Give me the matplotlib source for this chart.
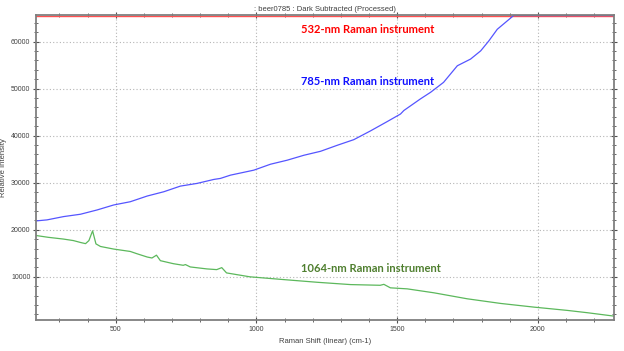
import matplotlib
matplotlib.use("Agg")
import matplotlib.pyplot as plt
from matplotlib.ticker import MultipleLocator

# Raman shift (cm-1) and intensity readings
blue_x = [217, 256, 315, 375, 434, 493, 552, 612, 671, 730, 789, 849, 872, 908, 991, 1050,
          1109, 1169, 1228, 1287, 1346, 1405, 1465, 1512, 1524, 1583, 1619, 1665, 1714, 1761,
          1797, 1826, 1856, 1914, 2270]
blue_y = [21880, 22100, 22800, 23300, 24210, 25270, 25960, 27170, 28080, 29280, 29850, 30700,
          30910, 31610, 32670, 33930, 34780, 35840, 36680, 37950, 39150, 41000, 43000, 44600,
          45350, 47820, 49220, 51330, 54860, 56280, 58030, 60150, 62620, 65535, 65535]

green_x = [217, 260, 315, 350, 375, 393, 405, 418, 430, 446, 493, 552, 576, 612, 629, 645, 659,
           705, 740, 748, 765, 824, 859, 877, 894, 930, 977, 1097, 1216, 1334, 1440, 1453,
           1476, 1536, 1631, 1749, 1868, 1986, 2105, 2176, 2270]
green_y = [18780, 18400, 18020, 17700, 17300, 17050, 17700, 19770, 17000, 16450, 15900, 15390,
           14900, 14210, 14000, 14600, 13430, 12790, 12450, 12600, 12100, 11680, 11530, 11950,
           10830, 10470, 10000, 9410, 8840, 8350, 8200, 8400, 7660, 7440, 6600, 5330, 4340,
           3560, 2860, 2370, 1650]

red_x = [217, 2270]
red_y = [65535, 65535]

labels = ["532-nm Raman instrument", "785-nm Raman instrument", "1064-nm Raman instrument"]
label_pos = [(1157, 62480), (1157, 51460), (1157, 11770)]
label_colors = ["#ff0000", "#1010ff", "#4f7f2f"]

plt.rcParams['font.family'] = ['Liberation Sans', 'DejaVu Sans']

fig = plt.figure(figsize=(6.24, 3.51), dpi=100)
ax = fig.add_axes([0.0577, 0.0883, 0.926, 0.869])

ax.plot(red_x, red_y, color="#ff5050", lw=1.0)
ax.plot(blue_x, blue_y, color="#5555ff", lw=0.9)
ax.plot(green_x, green_y, color="#5cb85c", lw=0.9)

ax.set_xlim(217, 2270)
ax.set_ylim(820, 65650)
ax.xaxis.set_major_locator(MultipleLocator(500))
ax.xaxis.set_minor_locator(MultipleLocator(100))
ax.yaxis.set_major_locator(MultipleLocator(10000))
ax.yaxis.set_minor_locator(MultipleLocator(2000))

ax.grid(True, which="major", linestyle=(0, (1, 2)), color="#b5b5b5", lw=0.8)
for s in ax.spines.values():
    s.set_color("#7f7f7f")
    s.set_linewidth(1.3)
ax.tick_params(which="major", direction="inout", length=4, width=0.8, color="#505050",
               labelsize=5, labelcolor="#404040", pad=2)
ax.tick_params(which="minor", direction="inout", length=2.5, width=0.6, color="#505050")
ax.tick_params(top=True, right=True, which="both", labeltop=False, labelright=False)

ax.set_xlabel("Raman Shift (linear) (cm-1)", fontsize=5.5, color="#404040", labelpad=4)
ax.set_ylabel("Relative Intensity", fontsize=5.5, color="#404040")
ax.yaxis.set_label_coords(-0.05, 0.5)
ax.set_title(": beer0785 : Dark Subtracted (Processed)", fontsize=5.5, color="#404040", pad=3)

for t, (x, y), c in zip(labels, label_pos, label_colors):
    ax.text(x, y, t, color=c, fontsize=8, fontweight="bold", family=["Lato", "DejaVu Sans"],
            va="center", ha="left")

fig.savefig("out.png", dpi=100)
